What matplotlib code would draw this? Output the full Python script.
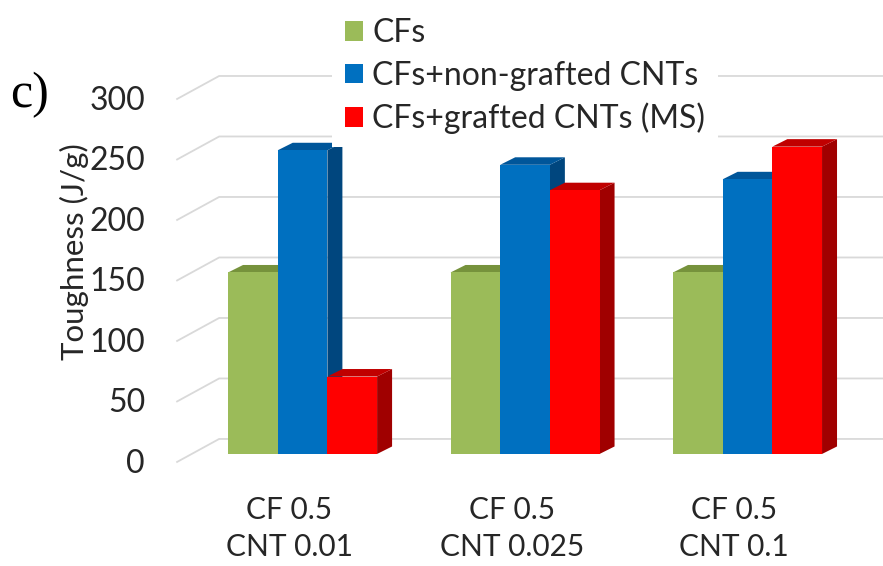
import numpy as np
import matplotlib.pyplot as plt
from matplotlib.patches import Polygon, Rectangle, Patch

plt.rcParams['font.family'] = ['Lato', 'DejaVu Sans']

# data
groups = ["CF 0.5\nCNT 0.01", "CF 0.5\nCNT 0.025", "CF 0.5\nCNT 0.1"]
series = ["CFs", "CFs+non-grafted CNTs", "CFs+grafted CNTs (MS)"]
cfs = [150, 150, 150]
non_grafted = [251, 239, 227]
grafted = [64, 218, 254]
yticks = [0, 50, 100, 150, 200, 250, 300]

front = ['#9BBB59', '#0070C0', '#FF0000']
top = ['#76923C', '#00569A', '#C00000']
side = ['#6F8A37', '#00467E', '#A00000']

fig = plt.figure(figsize=(8.83, 5.66), dpi=100)
ax = fig.add_axes([0, 0, 1, 1])
ax.set_xlim(-1.36, 2.609)
ax.set_ylim(-92.6, 375.2)
ax.axis('off')

# pseudo 3d geometry (data units)
bw = 0.2233
bdx, bdy = 0.0674, 6.2
wx0, wx1, wx2 = -0.564, -0.375, 2.62
wy0, wy1 = -6.6, 12.4

# slanted gridlines on floor / back wall
for v in yticks:
    ax.plot([wx0, wx1, wx2], [v + wy0, v + wy1, v + wy1], color='#d9d9d9', lw=1.3, zorder=1)
    ax.text(wx0 - 0.144, v + wy0 - 1.5, str(v), ha='right', va='center', fontsize=23, color='#262626')

vals = [cfs, non_grafted, grafted]
for i in range(len(groups)):
    for j in range(3):
        v = vals[j][i]
        xl = i + (j - 1.5) * bw
        ax.add_patch(Polygon([(xl + bw, 0), (xl + bw + bdx, bdy), (xl + bw + bdx, v + bdy), (xl + bw, v)],
                             closed=True, fc=side[j], ec='none', zorder=2 + i * 3 + j))
        ax.add_patch(Polygon([(xl, v), (xl + bw, v), (xl + bw + bdx, v + bdy), (xl + bdx, v + bdy)],
                             closed=True, fc=top[j], ec='none', zorder=2 + i * 3 + j))
        ax.add_patch(Rectangle((xl, 0), bw, v, fc=front[j], ec='none', zorder=2 + i * 3 + j))
    ax.text(i - 0.06, -61.5, groups[i], ha='center', va='center', fontsize=21.5,
            linespacing=1.38, color='#262626')

ax.text(-1.027, 167, "Toughness (J/g)", rotation=90, ha='center', va='center', fontsize=22.5, color='#262626')
ax.text(-1.225, 296.7, "c)", ha='center', va='center', fontsize=36, family='Liberation Serif')

handles = [Patch(fc=c, ec='none') for c in front]
leg = ax.legend(handles, series, loc='upper left', bbox_to_anchor=(0.376, 0.99), bbox_transform=fig.transFigure,
                fontsize=23, handlelength=0.56, handleheight=0.56, handletextpad=0.3,
                labelspacing=0.38, borderpad=0.4, borderaxespad=0, frameon=True, fancybox=False)
leg.get_frame().set_facecolor('white')
leg.get_frame().set_edgecolor('none')
leg.get_frame().set_alpha(1)
leg.set_zorder(20)
for t in leg.get_texts():
    t.set_color('#262626')

fig.savefig('out.png', dpi=100)
